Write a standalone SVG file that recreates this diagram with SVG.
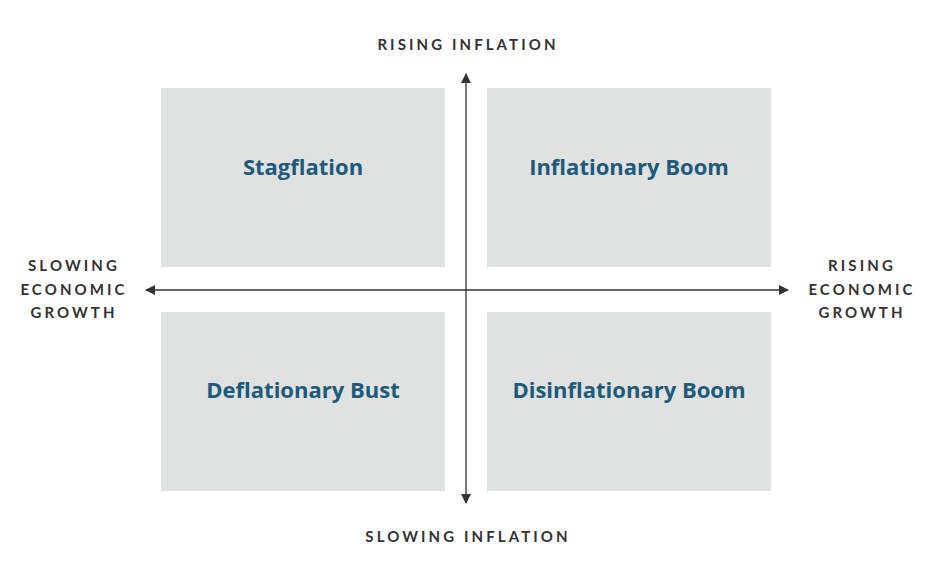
<svg xmlns="http://www.w3.org/2000/svg" width="935" height="574" viewBox="0 0 935 574">
<defs>
<marker id="ah" viewBox="0 0 10 10" refX="9" refY="5" markerWidth="10" markerHeight="10" markerUnits="userSpaceOnUse" orient="auto">
<path d="M0,0 L10,5 L0,10 Z" fill="#333"/>
</marker>
<style>
.box{fill:#e0e1e1}
.lbl{font-family:"Open Sans","Noto Sans",sans-serif;font-weight:700;font-size:22px;fill:#1e5a7b;text-anchor:middle}
.ax{font-family:"Lato","Noto Sans",sans-serif;font-weight:700;font-size:15px;fill:#333;letter-spacing:3.1px;text-anchor:middle}
.line{stroke:#333;stroke-width:1.3;fill:none}
</style>
</defs>
<g id="stagflation"><rect class="box" x="161" y="88" width="284" height="179"/><text class="lbl" x="303" y="175">Stagflation</text></g>
<g id="inflationary-boom"><rect class="box" x="487" y="88" width="284" height="179"/><text class="lbl" x="629" y="175">Inflationary Boom</text></g>
<g id="deflationary-bust"><rect class="box" x="161" y="312" width="284" height="179"/><text class="lbl" x="303" y="398">Deflationary Bust</text></g>
<g id="disinflationary-boom"><rect class="box" x="487" y="312" width="284" height="179"/><text class="lbl" x="629" y="398">Disinflationary Boom</text></g>
<g id="connectors">
<line class="line" x1="466" y1="290" x2="466" y2="74" marker-end="url(#ah)"/>
<line class="line" x1="466" y1="290" x2="466" y2="503" marker-end="url(#ah)"/>
<line class="line" x1="466" y1="290" x2="146" y2="290" marker-end="url(#ah)"/>
<line class="line" x1="466" y1="290" x2="788" y2="290" marker-end="url(#ah)"/>
</g>
<g id="rising-inflation"><text class="ax" x="468" y="50">RISING INFLATION</text></g>
<g id="slowing-inflation"><text class="ax" x="468" y="542">SLOWING INFLATION</text></g>
<g id="slowing-growth"><text class="ax" x="74" y="271">SLOWING</text><text class="ax" x="74" y="295">ECONOMIC</text><text class="ax" x="74" y="318">GROWTH</text></g>
<g id="rising-growth"><text class="ax" x="862" y="271">RISING</text><text class="ax" x="862" y="295">ECONOMIC</text><text class="ax" x="862" y="318">GROWTH</text></g>
</svg>
